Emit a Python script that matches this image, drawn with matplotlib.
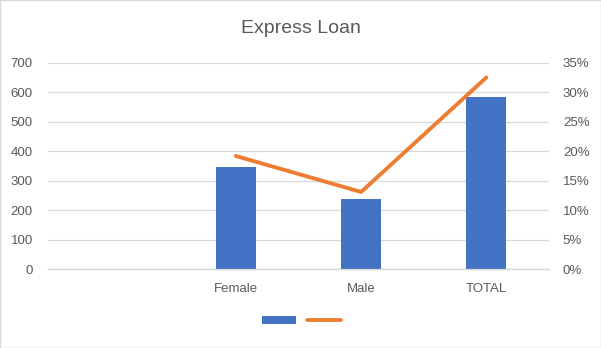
import matplotlib

matplotlib.use("Agg")
import matplotlib.pyplot as plt
import numpy as np
from matplotlib.lines import Line2D
from matplotlib.patches import Patch

categories = ["", "Female", "Male", "TOTAL"]
loans = [np.nan, 347, 238, 584]
share_pct = [np.nan, 19.2, 13.1, 32.5]
left_ticks = [0, 100, 200, 300, 400, 500, 600, 700]
right_ticks = [0, 5, 10, 15, 20, 25, 30, 35]

BLUE = "#4472C4"
ORANGE = "#ED7D31"
GREY = "#595959"
GRID = "#D9D9D9"

plt.rcParams["font.family"] = ["Liberation Sans", "DejaVu Sans"]

fig = plt.figure(figsize=(6.01, 3.48), dpi=100)
fig.patches.append(plt.Rectangle((0.0008, 0.0014), 0.9984, 0.9972, transform=fig.transFigure,
                                 fill=False, edgecolor="#D9D9D9", linewidth=1.0))
ax = fig.add_axes([48 / 601, 1 - 269.3 / 348, 501 / 601, (269.3 - 62.7) / 348])
ax2 = ax.twinx()

x = np.arange(len(categories))
ax.bar(x, loans, width=0.32, color=BLUE, zorder=3)
ax2.plot(x, share_pct, color=ORANGE, linewidth=2.8, solid_capstyle="round", zorder=4)

ax.set_xlim(-0.5, len(categories) - 0.5)
ax.set_ylim(0, 700)
ax2.set_ylim(0, 35)
ax.set_yticks(left_ticks)
ax.set_yticklabels([str(t) for t in left_ticks])
ax2.set_yticks(right_ticks)
ax2.set_yticklabels([f"{t}%" for t in right_ticks])
ax.set_xticks(x)
ax.set_xticklabels(categories)

ax.grid(axis="y", color=GRID, linewidth=0.9, zorder=0)
ax.set_axisbelow(True)
for a in (ax, ax2):
    for side in ("top", "left", "right"):
        a.spines[side].set_visible(False)
    a.spines["bottom"].set_color(GRID)
    a.spines["bottom"].set_linewidth(0.9)
    a.tick_params(length=0, labelsize=9.5, labelcolor=GREY)
ax.tick_params(axis="y", pad=11)
ax.tick_params(axis="x", pad=10)
ax2.tick_params(axis="y", pad=10)

fig.text(0.5, 0.918, "Express Loan", ha="center", va="center", fontsize=14, color=GREY)

handles = [Patch(facecolor=BLUE), Line2D([], [], color=ORANGE, linewidth=2.8, solid_capstyle="round")]
fig.legend(handles, ["", ""], loc="center", bbox_to_anchor=(0.502, 0.077), ncol=2, frameon=False,
           fontsize=9, handlelength=2.7, handleheight=0.65, handletextpad=0.0, columnspacing=0.9)

fig.savefig("out.png", dpi=100)
